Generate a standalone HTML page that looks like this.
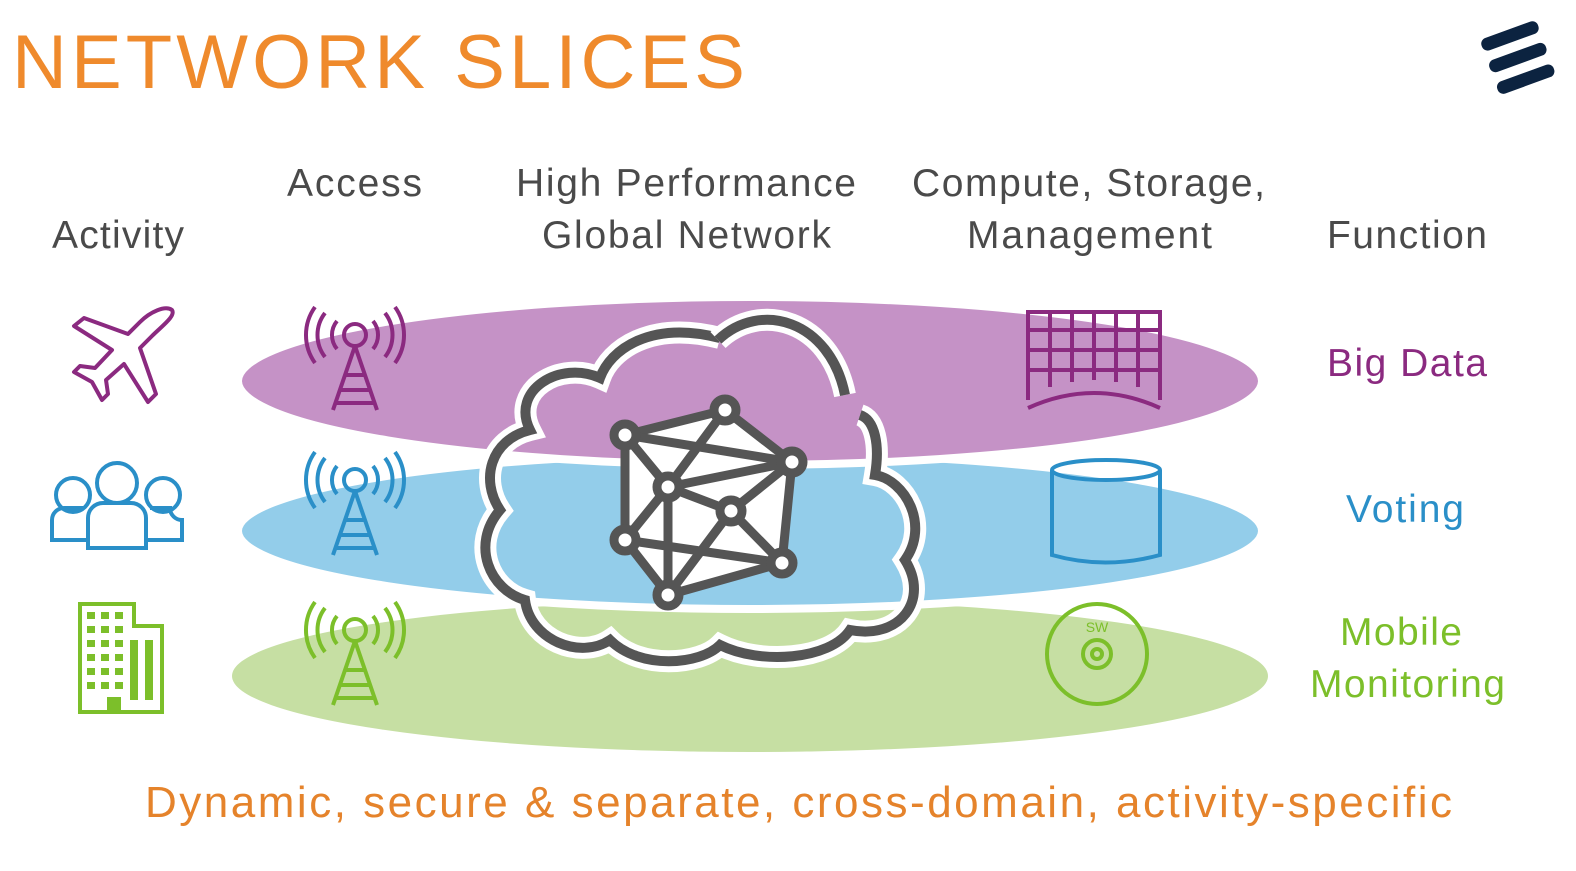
<!DOCTYPE html>
<html><head><meta charset="utf-8"><style>
body{margin:0;background:#fff;width:1576px;height:866px;overflow:hidden;font-family:"Liberation Sans",sans-serif}
</style></head><body>
<svg width="1576" height="866" viewBox="0 0 1576 866" xmlns="http://www.w3.org/2000/svg" font-family="Liberation Sans, sans-serif">
<text x="12" y="88" font-size="76" fill="#ef8a2c" textLength="733" lengthAdjust="spacing">NETWORK SLICES</text>
<g transform="translate(1518,58) rotate(-20)" fill="#0c2340">
<rect x="-30" y="-30" width="60" height="13" rx="6"/>
<rect x="-30" y="-7" width="60" height="13" rx="6"/>
<rect x="-30" y="16" width="60" height="13" rx="6"/>
</g>
<g font-size="39" fill="#4a4a4a" lengthAdjust="spacing">
<text x="52" y="248" textLength="132">Activity</text>
<text x="287" y="196" textLength="135">Access</text>
<text x="516" y="196" textLength="340">High Performance</text>
<text x="542" y="248" textLength="289">Global Network</text>
<text x="912" y="196" textLength="353">Compute, Storage,</text>
<text x="967" y="248" textLength="245">Management</text>
<text x="1327" y="248" textLength="160">Function</text>
</g>
<ellipse cx="750" cy="676" rx="518" ry="76" fill="#c6dfa3"/>
<ellipse cx="750" cy="531" rx="512" ry="78" fill="#93cdea" stroke="#fff" stroke-width="8"/>
<ellipse cx="750" cy="381" rx="512" ry="84" fill="#c592c6" stroke="#fff" stroke-width="8"/>
<g font-size="39">
<text x="1327" y="376" fill="#8b2a80" textLength="160">Big Data</text>
<text x="1346" y="522" fill="#2a8fc8" textLength="118">Voting</text>
<text x="1340" y="645" fill="#7cbf2a" textLength="122">Mobile</text>
<text x="1310" y="697" fill="#7cbf2a" textLength="195">Monitoring</text>
</g>
<text x="145" y="817" font-size="44" fill="#e5832b" textLength="1307" lengthAdjust="spacing">Dynamic, secure &amp; separate, cross-domain, activity-specific</text>
<g fill="none" stroke-width="4">
<g stroke="#8b2a80" transform="translate(355,335)"><circle cx="0" cy="0" r="11"/><path d="M-18,-14a22,22 0 0 0 0,28M18,-14a22,22 0 0 1 0,28M-30,-22a36,36 0 0 0 0,44M30,-22a36,36 0 0 1 0,44M-40,-28a48,48 0 0 0 0,56M40,-28a48,48 0 0 1 0,56M0,11L-22,75M0,11L22,75M-10,40h20M-15,55h30M-20,68h40"/></g>
<g stroke="#2a8fc8" transform="translate(355,480)"><circle cx="0" cy="0" r="11"/><path d="M-18,-14a22,22 0 0 0 0,28M18,-14a22,22 0 0 1 0,28M-30,-22a36,36 0 0 0 0,44M30,-22a36,36 0 0 1 0,44M-40,-28a48,48 0 0 0 0,56M40,-28a48,48 0 0 1 0,56M0,11L-22,75M0,11L22,75M-10,40h20M-15,55h30M-20,68h40"/></g>
<g stroke="#7cbf2a" transform="translate(355,630)"><circle cx="0" cy="0" r="11"/><path d="M-18,-14a22,22 0 0 0 0,28M18,-14a22,22 0 0 1 0,28M-30,-22a36,36 0 0 0 0,44M30,-22a36,36 0 0 1 0,44M-40,-28a48,48 0 0 0 0,56M40,-28a48,48 0 0 1 0,56M0,11L-22,75M0,11L22,75M-10,40h20M-15,55h30M-20,68h40"/></g>
<path stroke="#8b2a80" stroke-linejoin="round" d="M172,310 C165,305 150,312 140,322 L128,334 L84,318 L74,326 L112,350 L95,368 L80,366 L74,372 L92,382 L102,400 L108,394 L106,380 L124,364 L148,402 L156,394 L140,348 L152,336 C162,326 176,316 172,310 Z"/>
<g stroke="#2a8fc8"><circle cx="117" cy="483" r="20"/><path d="M88,548v-30a15,15 0 0 1 15,-15h28a15,15 0 0 1 15,15v30z"/>
<circle cx="73" cy="495" r="17"/><path d="M88,540h-36v-20a12,12 0 0 1 12,-12h20"/>
<circle cx="163" cy="495" r="17"/><path d="M146,540h36v-20a12,12 0 0 1 -12,-12h-20"/></g>
<g stroke="#7cbf2a"><path d="M80,712V604h54v22h28v86z"/></g>
</g>
<g fill="#7cbf2a"><rect x="107" y="697" width="14" height="15"/>
<g id="w"><rect x="87" y="612" width="8" height="7"/><rect x="101" y="612" width="8" height="7"/><rect x="115" y="612" width="8" height="7"/></g>
<use href="#w" y="14"/><use href="#w" y="28"/><use href="#w" y="42"/><use href="#w" y="56"/><use href="#w" y="70"/>
<rect x="130" y="640" width="8" height="60"/><rect x="145" y="640" width="8" height="60"/></g>
<g fill="none" stroke="#8b2a80" stroke-width="4"><path d="M1028,400V312h132v88M1028,408q66,-30 132,0"/><path d="M1028,330h132M1028,350h132M1028,370h132M1050,312v75M1072,312v70M1094,312v68M1116,312v70M1138,312v75"/></g>
<g fill="none" stroke="#2a8fc8" stroke-width="4"><path d="M1052,470v85q53,15 108,0v-85"/><ellipse cx="1106" cy="470" rx="54" ry="10"/></g>
<g fill="none" stroke="#7cbf2a" stroke-width="4"><circle cx="1097" cy="654" r="50"/><circle cx="1097" cy="654" r="14"/><circle cx="1097" cy="654" r="5"/></g>
<text x="1097" y="632" font-size="14" fill="#7cbf2a" text-anchor="middle">SW</text>
<path d="M720,338 C650,320 610,350 600,378 C560,360 510,390 530,430 C490,440 480,480 500,510 C470,545 490,590 525,600 C530,640 580,660 610,640 C640,670 700,665 720,645 C760,665 830,660 850,630 C900,640 930,600 905,560 C930,525 905,480 875,475 C880,445 875,420 860,415" fill="none" stroke="#fff" stroke-width="22"/>
<path d="M720,338 C650,320 610,350 600,378 C560,360 510,390 530,430 C490,440 480,480 500,510 C470,545 490,590 525,600 C530,640 580,660 610,640 C640,670 700,665 720,645 C760,665 830,660 850,630 C900,640 930,600 905,560 C930,525 905,480 875,475 C880,445 875,420 860,415" fill="none" stroke="#555" stroke-width="10"/>
<path d="M718,340 C760,300 830,320 845,395" fill="none" stroke="#fff" stroke-width="22"/>
<path d="M718,340 C760,300 830,320 845,395" fill="none" stroke="#555" stroke-width="10"/>
<g stroke="#555" stroke-width="9" stroke-linejoin="round">
<path d="M625,435 L725,410 L792,462 L782,563 L668,595 L625,540 Z" fill="#fff"/>
<path d="M625,435 L668,487 L725,410 M668,487 L792,462 M668,487 L625,540 M668,487 L668,595 M668,487 L731,511 L792,462 M731,511 L782,563 M731,511 L668,595 M625,435 L792,462 M625,540 L782,563" fill="none"/>
</g>
<g fill="#fff" stroke="#555" stroke-width="9">
<circle cx="625" cy="435" r="11"/><circle cx="725" cy="410" r="11"/><circle cx="792" cy="462" r="11"/><circle cx="668" cy="487" r="11"/><circle cx="731" cy="511" r="11"/><circle cx="625" cy="540" r="11"/><circle cx="782" cy="563" r="11"/><circle cx="668" cy="595" r="11"/>
</g>
</svg>
</body></html>
